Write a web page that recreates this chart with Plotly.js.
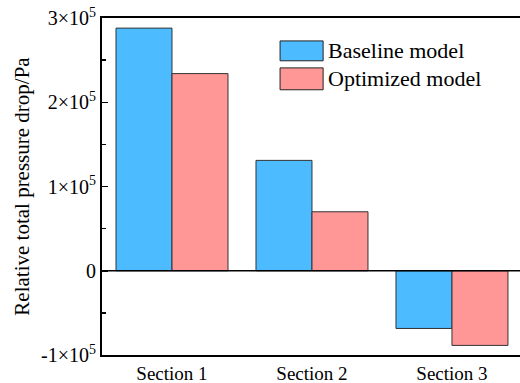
<!DOCTYPE html>
<html>
<head>
<meta charset="utf-8">
<script src="https://cdn.plot.ly/plotly-3.0.1.min.js"></script>
<style>html,body{margin:0;padding:0;background:#fff;}#chart{width:520px;height:383px;}</style>
</head>
<body>
<div id="chart"></div>
<script>
const categories = ["Section 1", "Section 2", "Section 3"];
const baseline = [288000, 131000, -68500];
const optimized = [234000, 70000, -88600];
const seriesNames = ["Baseline model", "Optimized model"];
const yTickVals = [-100000, 0, 100000, 200000, 300000];
const yTickText = ["-1×10<sup>5</sup>", "0", "1×10<sup>5</sup>", "2×10<sup>5</sup>", "3×10<sup>5</sup>"];

const colors = ["#4dbbff", "#ff9797"];
const font = "Liberation Serif";

const traces = [
  {type: "bar", x: categories, y: baseline, name: seriesNames[0],
   marker: {color: colors[0], line: {color: "#333", width: 1}}, showlegend: false},
  {type: "bar", x: categories, y: optimized, name: seriesNames[1],
   marker: {color: colors[1], line: {color: "#333", width: 1}}, showlegend: false}
];

const legX0 = 0.426, legX1 = 0.529;
const legRows = [[0.873, 0.932], [0.787, 0.852]];
const shapes = [];
const annotations = [];
seriesNames.forEach((n, i) => {
  shapes.push({type: "rect", xref: "paper", yref: "paper", x0: legX0, x1: legX1,
    y0: legRows[i][0], y1: legRows[i][1], fillcolor: colors[i], line: {color: "#222", width: 1}});
  annotations.push({xref: "paper", yref: "paper", x: 0.535, y: (legRows[i][0] + legRows[i][1]) / 2,
    xanchor: "left", yanchor: "middle", showarrow: false, text: n,
    font: {family: font, size: 22, color: "#000"}});
});
shapes.push({type: "line", xref: "paper", yref: "y", x0: 0, x1: 1, y0: 0, y1: 0,
  line: {color: "#000", width: 1.5}});

const layout = {
  width: 520, height: 383,
  margin: {l: 102, r: 0, t: 18, b: 28},
  paper_bgcolor: "#fff", plot_bgcolor: "#fff",
  font: {family: font, color: "#000"},
  barmode: "group", bargap: 0.2, bargroupgap: 0,
  xaxis: {
    range: [-0.5, 2.486], showgrid: false, zeroline: false,
    showline: true, linecolor: "#000", linewidth: 2, mirror: true,
    ticks: "", ticklabelstandoff: 0,
    tickfont: {family: font, size: 19, color: "#000"}
  },
  yaxis: {
    range: [-100000, 300000], showgrid: false, zeroline: false,
    showline: true, linecolor: "#000", linewidth: 2,
    tickvals: yTickVals, ticktext: yTickText,
    ticks: "inside", ticklen: 6, tickwidth: 1.5, tickcolor: "#000",
    minor: {dtick: 50000, ticks: "inside", ticklen: 4, tickwidth: 1.5, tickcolor: "#000", showgrid: false},
    tickfont: {family: font, size: 20, color: "#000"},
    title: {text: "Relative total pressure drop/Pa", font: {family: font, size: 21, color: "#000"}, standoff: 6}
  },
  shapes: shapes,
  annotations: annotations
};

Plotly.newPlot("chart", traces, layout, {displayModeBar: false, staticPlot: true});
</script>
</body>
</html>
